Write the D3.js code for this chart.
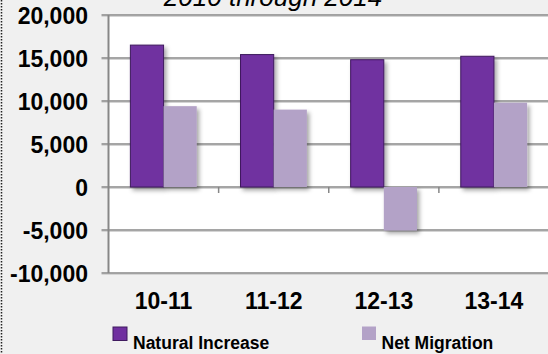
<!DOCTYPE html>
<html>
<head>
<meta charset="utf-8">
<script src="https://cdn.jsdelivr.net/npm/d3@7"></script>
<style>
  html, body { margin: 0; padding: 0; background: #f0f0f0; }
  svg { display: block; }
  text { font-family: Arial, "Liberation Sans", sans-serif; fill: #000; }
</style>
</head>
<body>
<svg id="chart" width="548" height="354"></svg>
<script>
// Annual population change components by fiscal year
const categories = ["10-11", "11-12", "12-13", "13-14"];
const seriesNames = ["Natural Increase", "Net Migration"];
const naturalIncrease = [16500, 15400, 14800, 15200];
const netMigration = [9400, 9000, -5050, 9800];
const yTicks = [-10000, -5000, 0, 5000, 10000, 15000, 20000];
const titleText = "2010 through 2014";

const colors = { "Natural Increase": "#7030a0", "Net Migration": "#b3a2c7" };
const strokes = { "Natural Increase": "#3f1a5e", "Net Migration": "none" };

const W = 548, H = 354;
const plot = { left: 108.5, right: 549, top: 15, bottom: 273 };

const svg = d3.select("#chart");

// drop shadow used by the bars
const defs = svg.append("defs");
const f = defs.append("filter").attr("id", "shadow")
  .attr("x", "-30%").attr("y", "-30%").attr("width", "160%").attr("height", "160%");
f.append("feDropShadow").attr("dx", 2.5).attr("dy", 3).attr("stdDeviation", 2)
  .attr("flood-color", "#000").attr("flood-opacity", 0.35);

// background and dotted outer frame
svg.append("rect").attr("width", W).attr("height", H).attr("fill", "#f0f0f0");
svg.append("line").attr("x1", 1.5).attr("x2", 1.5).attr("y1", 0).attr("y2", H)
  .attr("stroke", "#222").attr("stroke-width", 1.5).attr("stroke-dasharray", "1.5,1.5");

// title (runs off the top edge)
svg.append("text").attr("x", 273).attr("y", 5.5).attr("text-anchor", "middle")
  .style("font-style", "italic").style("font-size", "26px").text(titleText);

const y = d3.scaleLinear().domain([-10000, 20000]).range([plot.bottom, plot.top]);
const x = d3.scaleBand().domain(categories).range([plot.left, plot.right]).paddingInner(0).paddingOuter(0);
const xs = d3.scaleBand().domain(seriesNames).range([0, x.bandwidth()]).paddingInner(0).paddingOuter(0.66);

// plot area
svg.append("rect").attr("x", plot.left).attr("y", plot.top)
  .attr("width", plot.right - plot.left).attr("height", plot.bottom - plot.top).attr("fill", "#fff");

// gridlines with a faint shadow line below each
const grid = svg.append("g");
grid.selectAll("line.s").data(yTicks).join("line").attr("class", "s")
  .attr("x1", plot.left - 7).attr("x2", plot.right)
  .attr("y1", d => y(d) + 1.5).attr("y2", d => y(d) + 1.5)
  .attr("stroke", "#d4d4d4").attr("stroke-width", 1);
grid.selectAll("line.g").data(yTicks).join("line").attr("class", "g")
  .attr("x1", plot.left - 7).attr("x2", plot.right)
  .attr("y1", d => y(d)).attr("y2", d => y(d))
  .attr("stroke", "#878787").attr("stroke-width", 1.6);

// y axis labels, with a plain hyphen for negatives
const fmt = d3.formatLocale({ decimal: ".", thousands: ",", grouping: [3], currency: ["", ""], minus: "-" }).format(",");
const yAxis = d3.axisLeft(y).tickValues(yTicks).tickSize(0).tickPadding(20.5).tickFormat(fmt);
const yg = svg.append("g").attr("transform", `translate(${plot.left},0)`).call(yAxis);
yg.select(".domain").remove();
yg.selectAll("text").style("font-size", "23px").style("font-weight", "bold")
  .attr("dy", "0.36em").attr("fill", "#000");

// vertical axis line
svg.append("line").attr("x1", plot.left).attr("x2", plot.left)
  .attr("y1", plot.top).attr("y2", plot.bottom)
  .attr("stroke", "#878787").attr("stroke-width", 2);

// category tick marks on the zero line
svg.append("g").selectAll("line").data(categories.slice(1)).join("line")
  .attr("x1", d => x(d)).attr("x2", d => x(d))
  .attr("y1", y(0)).attr("y2", y(0) + 6)
  .attr("stroke", "#878787").attr("stroke-width", 1.5);

// bars
const rows = categories.map((c, i) => ({
  cat: c,
  vals: [
    { name: seriesNames[0], v: naturalIncrease[i] },
    { name: seriesNames[1], v: netMigration[i] }
  ]
}));
const groups = svg.append("g").selectAll("g").data(rows).join("g")
  .attr("transform", d => `translate(${x(d.cat)},0)`);
groups.selectAll("rect").data(d => d.vals).join("rect")
  .attr("x", d => xs(d.name))
  .attr("width", xs.bandwidth())
  .attr("y", d => y(Math.max(0, d.v)))
  .attr("height", d => Math.abs(y(d.v) - y(0)))
  .attr("fill", d => colors[d.name])
  .attr("stroke", d => strokes[d.name])
  .attr("stroke-width", 1)
  .attr("filter", "url(#shadow)");

// category labels
svg.append("g").selectAll("text").data(categories).join("text")
  .attr("x", d => x(d) + x.bandwidth() / 2).attr("y", 308.5)
  .attr("text-anchor", "middle")
  .style("font-size", "23px").style("font-weight", "bold").text(d => d);

// legend
const legendPos = [
  { name: seriesNames[0], sx: 113, sy: 327, tx: 133 },
  { name: seriesNames[1], sx: 362, sy: 326.5, tx: 381.5 }
];
const lg = svg.append("g").selectAll("g").data(legendPos).join("g");
lg.append("rect").attr("x", d => d.sx).attr("y", d => d.sy).attr("width", 14).attr("height", 13.5)
  .attr("fill", d => colors[d.name])
  .attr("stroke", d => strokes[d.name]).attr("stroke-width", 1);
lg.append("text").attr("x", d => d.tx).attr("y", 349)
  .style("font-size", "17.5px").style("font-weight", "bold").text(d => d.name);
</script>
</body>
</html>
